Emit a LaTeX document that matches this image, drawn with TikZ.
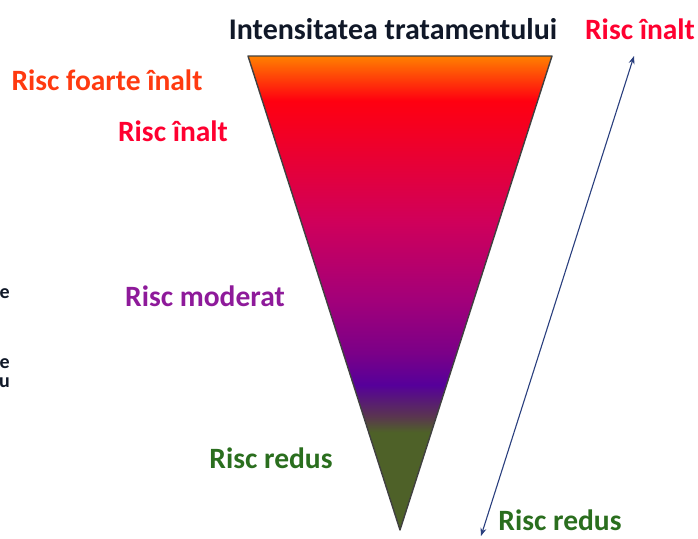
\documentclass[tikz,border=0pt]{standalone}
\usepackage{fontspec}
\setmainfont{Carlito}
\usetikzlibrary{arrows.meta}
\definecolor{cOrange}{HTML}{FF8000}
\definecolor{cRed}{HTML}{FF0010}
\definecolor{cCrimson}{HTML}{D0005A}
\definecolor{cMag}{HTML}{A2007A}
\definecolor{cPurp}{HTML}{7A0088}
\definecolor{cIndigo}{HTML}{56009A}
\definecolor{cBrown}{HTML}{5A3550}
\definecolor{cOlive}{HTML}{4E6128}
\definecolor{tOrange}{HTML}{FF3A10}
\definecolor{tRed}{HTML}{FF0030}
\definecolor{tPurple}{HTML}{8E1A9A}
\definecolor{tGreen}{HTML}{2A6E1E}
\definecolor{tDark}{HTML}{101828}
\definecolor{arrowBlue}{HTML}{2A3F7E}
\pgfdeclareverticalshading{risk}{100bp}{
  color(0bp)=(cOlive); color(25bp)=(cOlive); color(35.3bp)=(cOlive);
  color(37.0bp)=(cBrown); color(40.3bp)=(cIndigo); color(43.6bp)=(cPurp);
  color(49.2bp)=(cMag); color(57.6bp)=(cCrimson); color(70.3bp)=(cRed);
  color(75bp)=(cOrange); color(100bp)=(cOrange)}
\tikzset{
  risklabel/.style={font=\bfseries\fontsize{29.5}{32}\selectfont, inner sep=0pt},
  cutlabel/.style={font=\bfseries\fontsize{20}{24}\selectfont, inner sep=0pt, text=tDark, anchor=east},
}
\begin{document}
\begin{tikzpicture}[x=1pt,y=-1pt]
\useasboundingbox (0,0) rectangle (698,538);
\coordinate (tl) at (248,56);
\coordinate (tr) at (552,56);
\coordinate (apex) at (400,530);
\shade[shading=risk] (tl) -- (tr) -- (apex) -- cycle;
\draw[line width=1.4pt, draw=black!75, line join=round] (tl) -- (tr) -- (apex) -- cycle;
\node[font=\bfseries\fontsize{30}{34}\selectfont, inner sep=0pt, text=tDark] (title) at (393,29) {Intensitatea tratamentului};
\node[risklabel, text=tRed] (hiR) at (640,29) {Risc înalt};
\node[risklabel, text=tOrange] (vhi) at (107,80) {Risc foarte înalt};
\node[risklabel, text=tRed] (hiL) at (173,131) {Risc înalt};
\node[risklabel, text=tPurple] (mod) at (205,296) {Risc moderat};
\node[risklabel, text=tGreen] (lowL) at (271,458) {Risc redus};
\node[risklabel, text=tGreen] (lowR) at (560,520) {Risc redus};
\node[cutlabel] (c1) at (10,294) {e};
\node[cutlabel] (c2) at (10,364) {e};
\node[cutlabel] (c3) at (10,383) {u};
\coordinate (aTop) at (634,56);
\coordinate (aBot) at (481,536);
\draw[arrowBlue, line width=1.1pt, {Stealth[length=8pt,width=6pt]}-{Stealth[length=8pt,width=6pt]}] (aBot) -- (aTop);
\end{tikzpicture}
\end{document}
